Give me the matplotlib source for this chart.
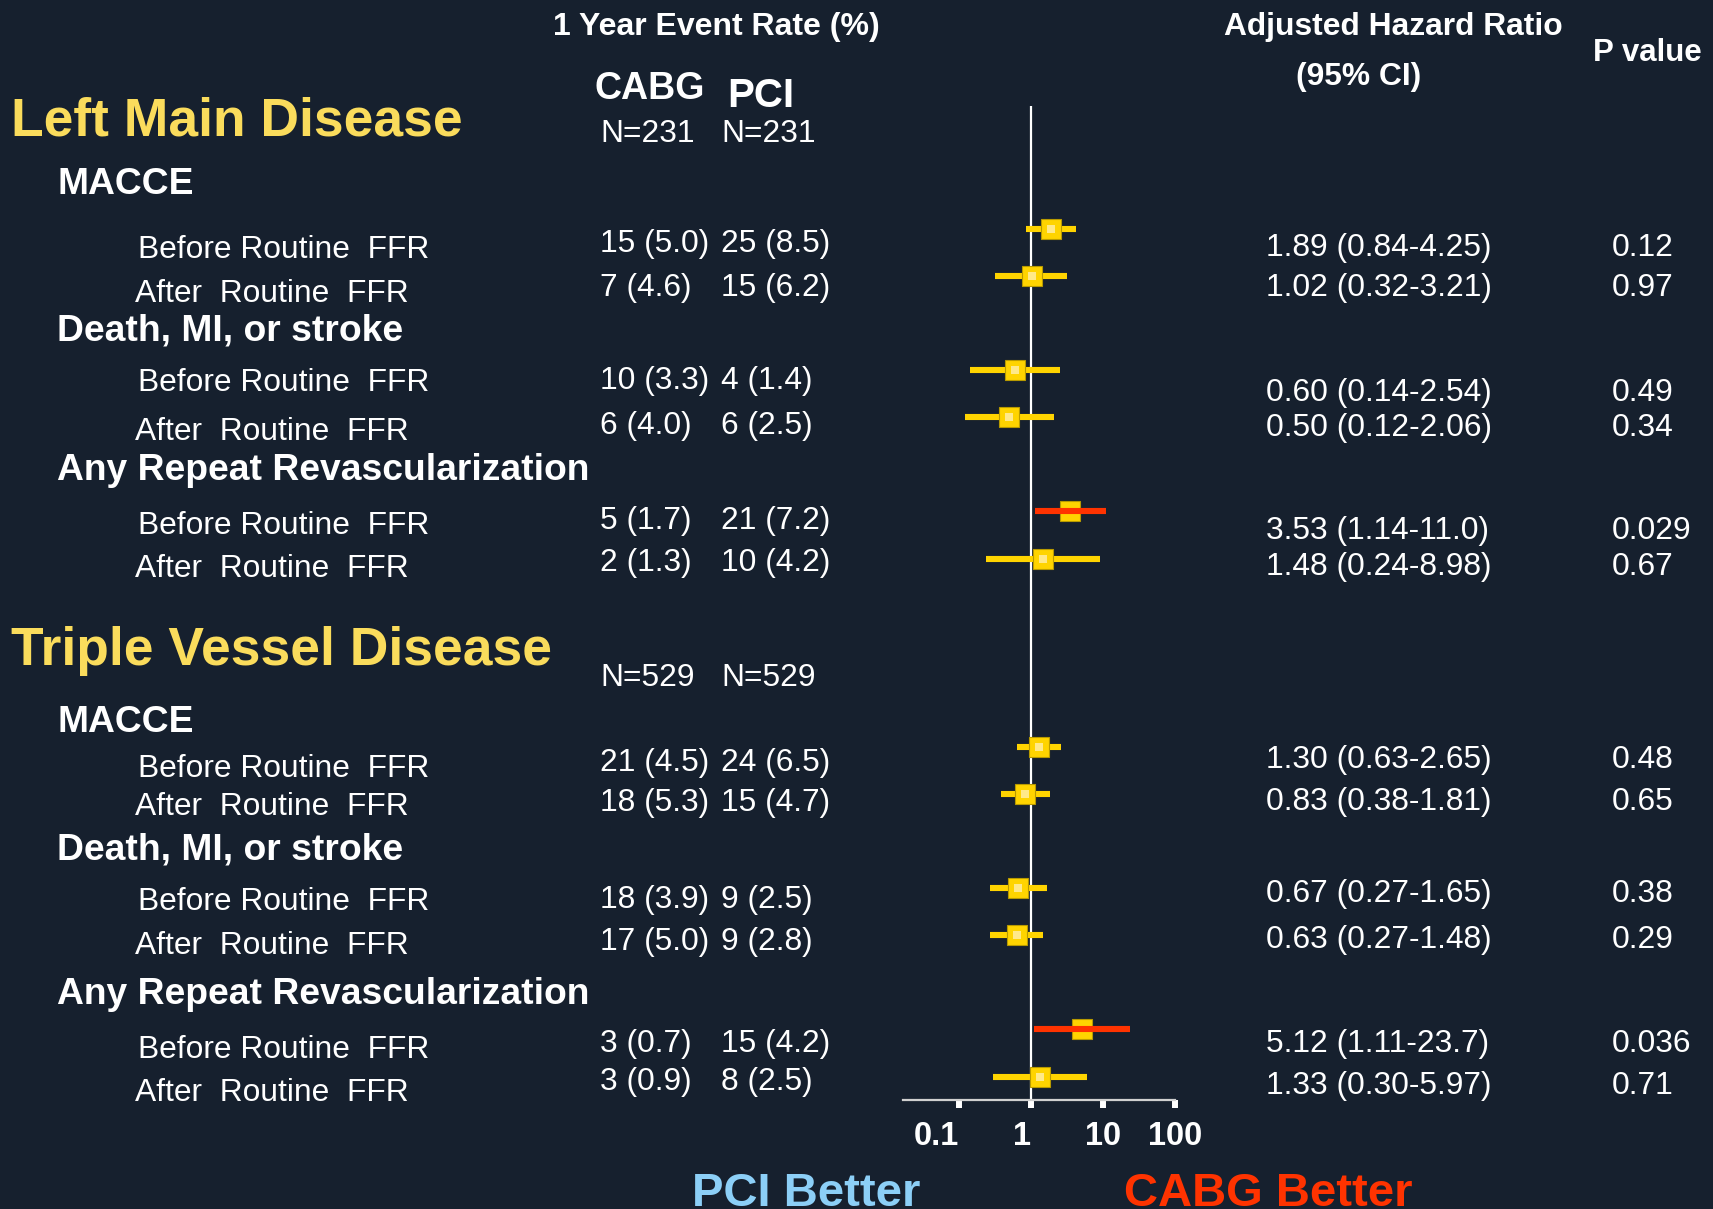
import numpy as np
from matplotlib import pyplot as plt

# ---- data ----
groups = ["Left Main Disease", "Triple Vessel Disease"]
group_n = [231, 529]
outcomes = ["MACCE", "Death, MI, or stroke", "Any Repeat Revascularization"]
periods = ["Before Routine  FFR", "After  Routine  FFR"]

# 12 rows: LMD (MACCE b/a, DMS b/a, RR b/a), then TVD in the same order
cabg_events = [15, 7, 10, 6, 5, 2, 21, 18, 18, 17, 3, 3]
cabg_rate = [5.0, 4.6, 3.3, 4.0, 1.7, 1.3, 4.5, 5.3, 3.9, 5.0, 0.7, 0.9]
pci_events = [25, 15, 4, 6, 21, 10, 24, 15, 9, 9, 15, 8]
pci_rate = [8.5, 6.2, 1.4, 2.5, 7.2, 4.2, 6.5, 4.7, 2.5, 2.8, 4.2, 2.5]
hr = [1.89, 1.02, 0.60, 0.50, 3.53, 1.48, 1.30, 0.83, 0.67, 0.63, 5.12, 1.33]
hr_lo = [0.84, 0.32, 0.14, 0.12, 1.14, 0.24, 0.63, 0.38, 0.27, 0.27, 1.11, 0.30]
hr_hi = [4.25, 3.21, 2.54, 2.06, 11.0, 8.98, 2.65, 1.81, 1.65, 1.48, 23.7, 5.97]
p_val = ["0.12", "0.97", "0.49", "0.34", "0.029", "0.67",
         "0.48", "0.65", "0.38", "0.29", "0.036", "0.71"]
xticks = [0.1, 1, 10, 100]

# ---- layout (pixel rows, measured from the top of the slide) ----
W, H = 1713, 1209
DY = 4  # text sits a touch lower than its box centre
group_y = [117, 647]
n_y = [130, 674]
outcome_y = [181, 327, 466, 719, 846, 991]
label_y = [246, 290, 379, 428, 522, 565, 765, 803, 898, 942, 1046, 1089]
count_y = [240, 284, 377, 422, 517, 559, 759, 799, 896, 938, 1040, 1078]
hr_y = [244, 284, 389, 424, 527, 563, 756, 798, 890, 936, 1040, 1082]
mark_y = [229, 276, 370, 417, 511, 559, 747, 794, 888, 935, 1029, 1077]

BG = "#16202E"
YEL = "#FFD400"
RED = "#FF3300"
TITLE = "#FADC5C"
plt.rcParams['font.family'] = ['Liberation Sans', 'DejaVu Sans']

fig = plt.figure(figsize=(W / 100, H / 100), dpi=100, facecolor=BG)

# overlay axes in pixel units for all the slide text
tx = fig.add_axes([0, 0, 1, 1])
tx.set_xlim(0, W)
tx.set_ylim(H - DY, -DY)
tx.axis("off")

# forest plot axes
ax_left, ax_right, ax_bottom = 903, 1175, 1100
ax = fig.add_axes([ax_left / W, (H - ax_bottom) / H, (ax_right - ax_left) / W, ax_bottom / H])
ax.set_facecolor("none")
ax.set_xscale("log")
ax.set_xlim(10 ** (-128 / 72), 100)
ax.set_ylim(ax_bottom, 0)
for s in ["top", "left", "right"]:
    ax.spines[s].set_visible(False)
ax.spines["bottom"].set_color("#D0D0D0")
ax.spines["bottom"].set_linewidth(1.6)
ax.set_yticks([])
ax.set_xticks(xticks)
ax.set_xticklabels(["0.1", "1", "10", "100"])
ax.minorticks_off()
ax.tick_params(axis="x", colors="white", length=6, width=4.3, pad=9,
               labelsize=23.5)
for lab, ha in zip(ax.get_xticklabels(), ["right", "right", "center", "center"]):
    lab.set_fontweight("bold")
    lab.set_ha(ha)

ax.vlines(1, 106, ax_bottom, color="white", lw=1.6, zorder=1)

for i in range(len(hr)):
    signif = hr_lo[i] > 1
    if signif:
        ax.plot(hr[i], mark_y[i], marker="s", ms=15, color=YEL, mec="#B89A00", mew=0.8, zorder=3)
        ax.hlines(mark_y[i], hr_lo[i], hr_hi[i], color=RED, lw=4.4, zorder=4)
    else:
        ax.hlines(mark_y[i], hr_lo[i], hr_hi[i], color=YEL, lw=4.4, zorder=2)
        ax.plot(hr[i], mark_y[i], marker="s", ms=15, color=YEL, mec="#B89A00", mew=0.8, zorder=3)
        ax.plot(hr[i], mark_y[i], marker="s", ms=6, color="#FFE98A", mew=0, zorder=4)

# ---- headers ----
hdr = dict(color="white", fontweight="bold", ha="center", va="center")
tx.text(716, 23, "1 Year Event Rate (%)", fontsize=23, **hdr)
tx.text(1393, 23, "Adjusted Hazard Ratio", fontsize=22.9, **hdr)
tx.text(1359, 73, "(95% CI)", fontsize=22.9, **hdr)
tx.text(1647, 49, "P value", fontsize=22.5, **hdr)
tx.text(650, 85, "CABG", fontsize=27, **hdr)
tx.text(761, 92, "PCI", fontsize=29, **hdr)

body = dict(color="white", fontsize=22.9, va="center", ha="left")
for g in range(len(groups)):
    tx.text(11, group_y[g], groups[g], color=TITLE, fontsize=38.4,
            fontweight="bold", va="center", ha="left")
    tx.text(600, n_y[g], f"N={group_n[g]}", **body)
    tx.text(721, n_y[g], f"N={group_n[g]}", **body)
    for o in range(len(outcomes)):
        tx.text(57, outcome_y[g * 3 + o], outcomes[o], color="white", fontsize=26.8,
                fontweight="bold", va="center", ha="left")

def fmt(v):
    return f"{v:.2f}" if v < 10 else f"{v:.1f}"

for i in range(len(hr)):
    per = periods[i % 2]
    tx.text(138 if i % 2 == 0 else 135, label_y[i], per, **body)
    tx.text(600, count_y[i], f"{cabg_events[i]} ({cabg_rate[i]:.1f})", **body)
    tx.text(721, count_y[i], f"{pci_events[i]} ({pci_rate[i]:.1f})", **body)
    tx.text(1266, hr_y[i], f"{fmt(hr[i])} ({fmt(hr_lo[i])}-{fmt(hr_hi[i])})", **body)
    tx.text(1612, hr_y[i], p_val[i], **body)

# bottom captions run off the slide edge, as in the original
tx.text(806, 1190, "PCI Better", color="#8CCFF7", fontsize=34, fontweight="bold",
        ha="center", va="center")
tx.text(1268, 1190, "CABG Better", color=RED, fontsize=34, fontweight="bold",
        ha="center", va="center")

fig.savefig("out.png", dpi=100, facecolor=BG)
